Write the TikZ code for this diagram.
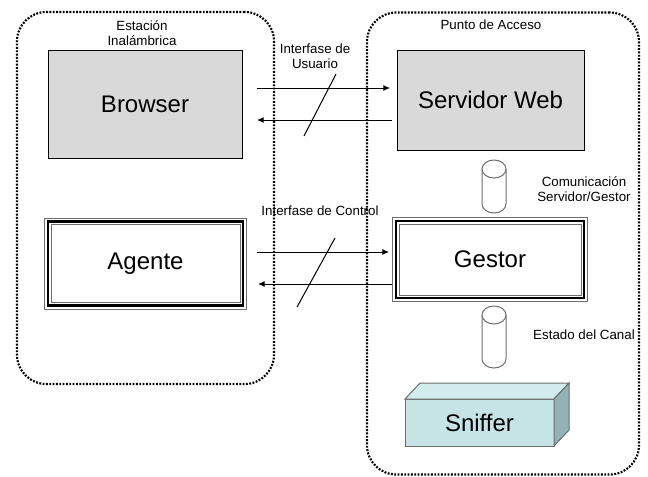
\documentclass[tikz,border=0pt]{standalone}
\usepackage{fontspec}
\setmainfont{Liberation Sans}
\usetikzlibrary{arrows.meta}

\definecolor{boxgray}{RGB}{217,217,217}
\definecolor{sniffront}{RGB}{198,228,230}
\definecolor{sniftop}{RGB}{210,236,238}
\definecolor{snifside}{RGB}{146,178,180}
\definecolor{rimgray}{RGB}{110,110,110}

\tikzset{every picture/.style={line width=0.75pt}}
\tikzset{
  frame/.style={draw, line width=1.6pt, dash pattern={on 1.4pt off 1.1pt}, rounded corners=22pt},
  bigbox/.style={draw, rectangle, outer sep=0pt, font=\fontsize{18}{20}\selectfont},
  dblbox/.style={bigbox, line width=1.8pt, fill=white},
  smalltxt/.style={inner sep=0.75pt, align=center, font=\fontsize{10}{11.5}\selectfont},
  pipe/.style={rectangle, minimum width=24*0.75pt, minimum height=53*0.75pt, inner sep=0pt, outer sep=0pt},
  iface/.style={-{Latex[length=5pt,width=4.5pt]}}
}

\begin{document}
\begin{tikzpicture}[x=0.75pt,y=0.75pt,yscale=-1,xscale=1]
\useasboundingbox (0,0) rectangle (648,476);

%containers
\node (estacion) [frame, minimum width=257*0.75pt, minimum height=372*0.75pt] at (145.5,198) {};
\node (punto) [frame, minimum width=272*0.75pt, minimum height=462*0.75pt] at (503,243.5) {};
\node (lblestacion) [smalltxt] at (142,33) {Estación\\Inalámbrica};
\node (lblpunto) [smalltxt] at (491,25) {Punto de Acceso};

%boxes
\node (browser) [bigbox, fill=boxgray, minimum width=194*0.75pt, minimum height=108*0.75pt] at (145,104) {Browser};
\node (servidor) [bigbox, fill=boxgray, minimum width=187*0.75pt, minimum height=100*0.75pt] at (490.5,100) {Servidor Web};
\node (agente) [dblbox, minimum width=195*0.75pt, minimum height=84*0.75pt] at (145.5,263.5) {Agente};
\node (gestor) [dblbox, minimum width=188*0.75pt, minimum height=77*0.75pt] at (490,259.5) {Gestor};
\foreach \b in {agente,gestor}{
  \draw [rimgray] ([shift={(-3.5,-3.5)}]\b.north west) rectangle ([shift={(3.5,3.5)}]\b.south east);
  \draw [rimgray] ([shift={(3,3)}]\b.north west) rectangle ([shift={(-3,-3)}]\b.south east);
}

%pipes
\node (pipea) [pipe] at (494,186.5) {};
\node (pipeb) [pipe, minimum height=62*0.75pt] at (494,337) {};
\foreach \p in {pipea,pipeb}{
  \draw [rimgray, fill=white] ([shift={(0,9)}]\p.north west) -- ([shift={(0,-9)}]\p.south west)
    arc [start angle=180, end angle=0, x radius=12, y radius=9] -- ([shift={(0,9)}]\p.north east);
  \draw [rimgray, fill=white] ([shift={(0,9)}]\p.north) ellipse [x radius=12, y radius=9];
}
\node (lblcom) [smalltxt] at (584,189) {Comunicación\\Servidor/Gestor};
\node (lblcanal) [smalltxt] at (584,335) {Estado del Canal};

%sniffer
\node (sniffer) [bigbox, fill=sniffront, draw=rimgray, minimum width=149*0.75pt, minimum height=47*0.75pt] at (479.5,422.5) {Sniffer};
\draw [rimgray, fill=sniftop] (sniffer.north west) -- ([shift={(15,-16)}]sniffer.north west) -- ([shift={(15,-16)}]sniffer.north east) -- (sniffer.north east) -- cycle;
\draw [rimgray, fill=snifside] (sniffer.north east) -- ([shift={(15,-16)}]sniffer.north east) -- ([shift={(15,-16)}]sniffer.south east) -- (sniffer.south east) -- cycle;

%interfaces
\draw [iface] ([shift={(15,-16)}]browser.east) -- ([shift={(-7,-12)}]servidor.west);
\draw [iface] ([shift={(-5,20)}]servidor.west) -- ([shift={(15,16)}]browser.east);
\draw (304,136) -- (336,74);
\node (lblusuario) [smalltxt] at (315,56) {Interfase de\\Usuario};

\draw [iface] ([shift={(14,-11.5)}]agente.east) -- ([shift={(-7,-7.5)}]gestor.west);
\draw [iface] ([shift={(-4,24.5)}]gestor.west) -- ([shift={(15,20.5)}]agente.east);
\draw (297,307) -- (335,238);
\node (lblcontrol) [smalltxt] at (320,211) {Interfase de Control};

\end{tikzpicture}
\end{document}
